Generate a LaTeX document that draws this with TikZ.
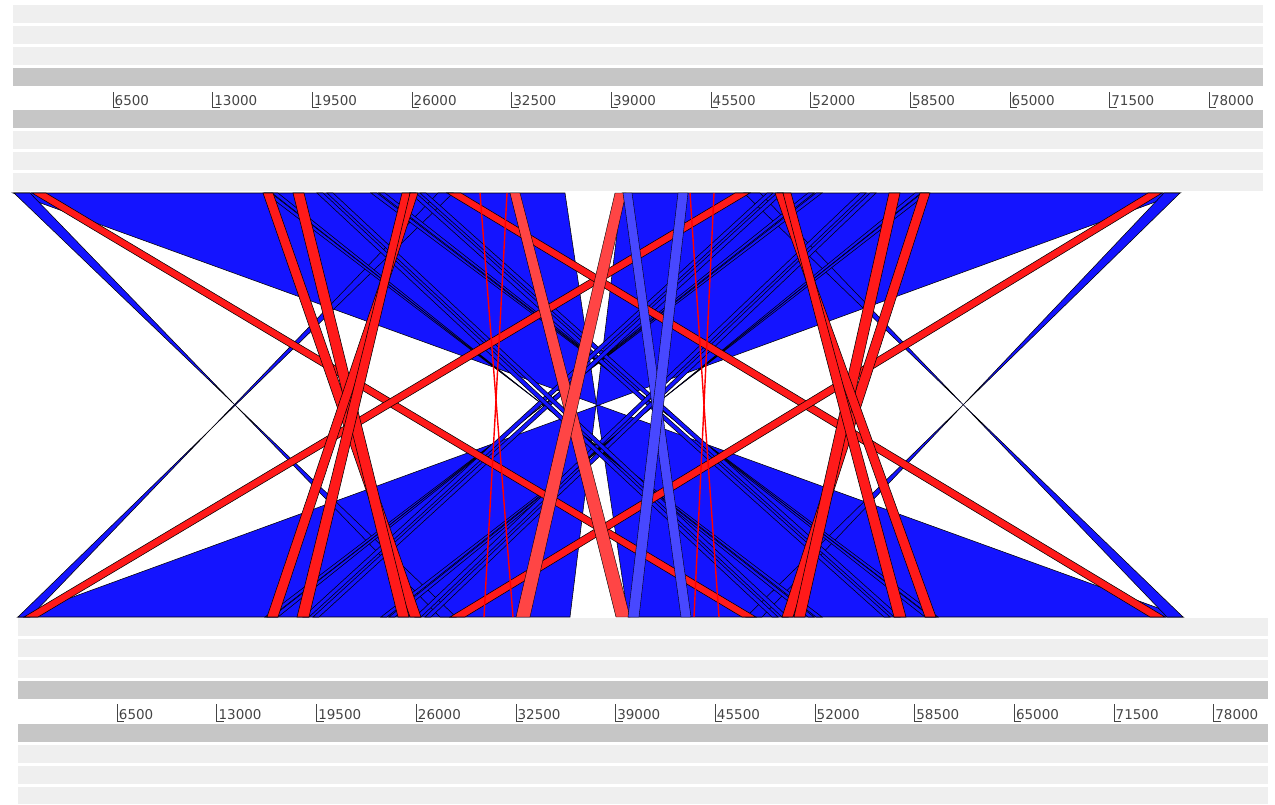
\documentclass[tikz,border=0pt]{standalone}
\usepackage{fontspec}
\setmainfont{DejaVu Sans}
\definecolor{stripe}{HTML}{EFEFEF}
\definecolor{band}{HTML}{C6C6C6}
\definecolor{revblue}{HTML}{1414FF}
\definecolor{fwdred}{HTML}{FF1A1A}
\definecolor{lowred}{HTML}{FF4545}
\definecolor{lowblue}{HTML}{4848FF}
\definecolor{tickgray}{HTML}{444444}

% match rows
\newcommand{\ytop}{193}
\newcommand{\ybot}{617}
% forward hit: top a-b to bottom c-d
\newcommand{\fwdhit}[5][fwd]{\filldraw[#1] (#2,\ytop) -- (#3,\ytop) -- (#5,\ybot) -- (#4,\ybot) -- cycle;}
% reverse hit: top a-b to bottom d-c (crossed)
\newcommand{\revhit}[5][rev]{\filldraw[#1] (#2,\ytop) -- (#3,\ytop) -- (#4,\ybot) -- (#5,\ybot) -- cycle;}

\begin{document}
\begin{tikzpicture}[
    x=1pt, y=-1pt,
    font=\fontsize{13.5}{13.5}\selectfont,
    lite/.style={fill=stripe},
    dark/.style={fill=band},
    tick/.style={draw=tickgray, line width=0.9pt},
    ticklabel/.style={anchor=base west, inner sep=0pt, text=tickgray},
    rev/.style={fill=revblue, draw=black, line width=0.55pt},
    fwd/.style={fill=fwdred, draw=black, line width=0.55pt},
    lowfwd/.style={fill=lowred, draw=black, line width=0.4pt},
    lowrev/.style={fill=lowblue, draw=black, line width=0.4pt},
    thinred/.style={draw=red, line width=1.4pt},
]
\useasboundingbox (0,0) rectangle (1275,804);

% ── Top sequence ─────────────────────────────────────────────
\foreach \y in {5,26,47,131,152,173}
    \fill[lite] (13,\y) rectangle (1263,\y+18);
\fill[dark] (13,68) rectangle (1263,86);
\fill[dark] (13,110) rectangle (1263,128);
\foreach \i in {1,...,12} {
    \pgfmathsetmacro{\tx}{13.3+99.67*\i}
    \pgfmathtruncatemacro{\lab}{65*\i}
    \draw[tick] (\tx,92) -- (\tx,107) -- (\tx+7,107);
    \node[ticklabel] (top\i) at (\tx+1.5,105) {\lab00};
}

% ── Bottom sequence ──────────────────────────────────────────
\foreach \y in {618,639,660,745,766}
    \fill[lite] (18,\y) rectangle (1268,\y+18);
\fill[lite] (18,787) rectangle (1268,804);
\fill[dark] (18,681) rectangle (1268,699);
\fill[dark] (18,724) rectangle (1268,742);
\foreach \i in {1,...,12} {
    \pgfmathsetmacro{\bx}{17.6+99.67*\i}
    \pgfmathtruncatemacro{\lab}{65*\i}
    \draw[tick] (\bx,704) -- (\bx,721) -- (\bx+7,721);
    \node[ticklabel] (bot\i) at (\bx+1.5,719) {\lab00};
}

% ── Reverse hits ─────────────────────────────────────────────
\revhit{13}{565}{628}{1183}
\revhit{622}{1180}{18}{570}
\revhit{14}{30}{440}{456}
\revhit{438}{453}{18}{30}
\revhit{1164}{1180}{746}{762}
\revhit{744}{760}{1167}{1183}

% thin reverse hits
\revhit{265}{271}{816}{822}
\revhit{272}{278}{808}{814}
\revhit{808}{814}{272}{278}
\revhit{816}{822}{265}{271}
\revhit{915}{921}{389}{395}
\revhit{922}{928}{381}{387}
\revhit{371}{377}{932}{938}
\revhit{379}{385}{925}{931}
\fwdhit[rev]{410}{416}{884}{890}
\fwdhit[rev]{420}{426}{894}{900}
\fwdhit[rev]{777}{783}{313}{319}
\fwdhit[rev]{767}{773}{303}{309}
\fwdhit[rev]{870}{876}{425}{431}
\fwdhit[rev]{860}{866}{415}{421}
\fwdhit[rev]{317}{323}{772}{778}
\fwdhit[rev]{327}{333}{782}{788}

% ── Forward hits ─────────────────────────────────────────────
\fwdhit{32}{46}{742}{756}
\fwdhit{735}{750}{24}{38}
\fwdhit{447}{461}{1150}{1165}
\fwdhit{1148}{1162}{450}{465}
\fwdhit{263}{273}{410}{421}
\fwdhit{293}{304}{398}{409}
\fwdhit{410}{418}{267}{278}
\fwdhit{402}{410}{297}{309}
\fwdhit{920}{930}{782}{793}
\fwdhit{889}{900}{794}{805}
\fwdhit{775}{783}{925}{936}
\fwdhit{783}{791}{894}{906}

% weaker hits
\fwdhit[lowfwd]{510}{520}{616}{630}
\fwdhit[lowfwd]{615}{626}{516}{530}
\fwdhit[lowrev]{623}{632}{681}{691}
\fwdhit[lowrev]{678}{688}{628}{639}
\draw[thinred] (480,193) -- (496,400) -- (484,617);
\draw[thinred] (507,193) -- (496,400) -- (513,617);
\draw[thinred] (690,193) -- (704,405) -- (694,617);
\draw[thinred] (714,193) -- (704,405) -- (719,617);

\end{tikzpicture}
\end{document}
